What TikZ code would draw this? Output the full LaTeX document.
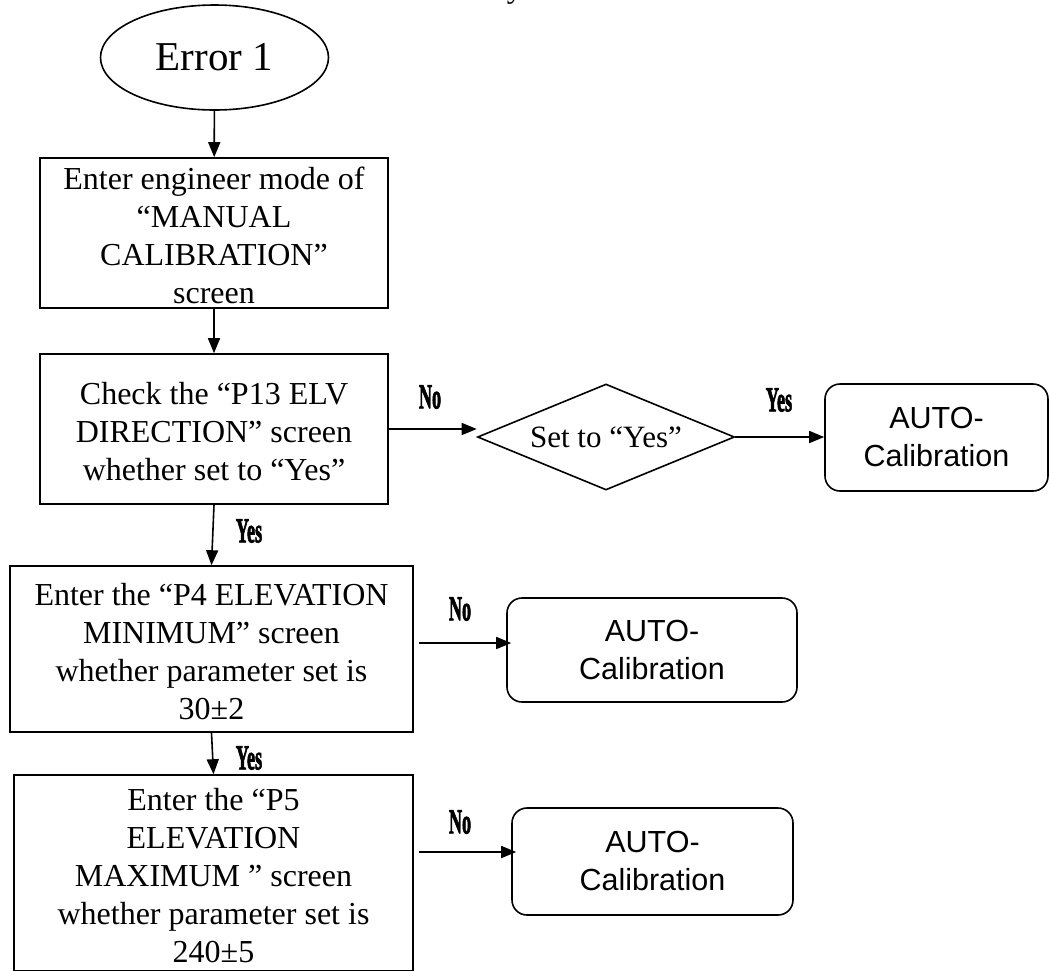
\documentclass[tikz,border=0pt]{standalone}
\usepackage{fontspec}
\usepackage{graphicx}
\setmainfont{Liberation Serif}
\newfontfamily\arialfont{Liberation Sans}
\newfontfamily\ynfont[FakeBold=2.5]{Liberation Serif Bold}
\usetikzlibrary{shapes.geometric,arrows.meta}
\newcommand\lns{\rule[-5pt]{0pt}{36pt}}
\newcommand\alns{\rule[-8pt]{0pt}{36pt}}
\newcommand\yn[1]{\scalebox{0.52}[1]{\ynfont #1}}
\begin{document}
\begin{tikzpicture}[x=1pt,y=-1pt,
  line width=1.6pt,
  arr/.style={-{Triangle[length=15pt,width=12pt]}},
  procbox/.style={draw,rectangle,inner sep=0pt,align=center,font=\fontsize{32}{38}\selectfont},
  autobox/.style={draw,rectangle,rounded corners=15pt,inner sep=0pt,align=center,font=\arialfont\fontsize{30.5}{38}\selectfont},
  termnode/.style={draw,ellipse,inner sep=0pt,font=\fontsize{41}{48}\selectfont},
  decnode/.style={draw,diamond,aspect=2.42,inner sep=0pt,font=\fontsize{31}{36}\selectfont},
  ynlabel/.style={inner sep=0pt,font=\fontsize{35}{35}\selectfont}]
\useasboundingbox (0,0) rectangle (1051,970);
% cut-off fragment at top edge
\node[anchor=base west,inner sep=0pt,font=\fontsize{32}{38}\selectfont] (ttl) at (506,-3) {y};

\node[termnode,minimum width=228pt,minimum height=105pt] (e1) at (214.5,57.5) {Error 1};

\node[procbox,minimum width=348pt,minimum height=150pt] (b1) at (214,233)
  {\lns Enter engineer mode of\\ \lns “MANUAL\\ \lns CALIBRATION”\\ \lns screen};

\node[procbox,minimum width=348pt,minimum height=150pt] (b2) at (214,429)
  {\lns Check the “P13 ELV\\ \lns DIRECTION” screen\\ \lns whether set to “Yes”};

\node[decnode,minimum width=257pt,minimum height=106pt] (d1) at (606,437) {Set to “Yes”};

\node[autobox,minimum width=223pt,minimum height=107pt] (a1) at (936.5,437.5)
  {\alns AUTO-\\ \alns Calibration};

\node[procbox,minimum width=403pt,minimum height=166pt] (b3) at (211.5,649)
  {\lns Enter the “P4 ELEVATION\\ \lns MINIMUM” screen\\ \lns whether parameter set is\\ \lns 30±2};

\node[autobox,minimum width=290pt,minimum height=104pt] (a2) at (652,650)
  {\alns AUTO-\\ \alns Calibration};

\node[procbox,minimum width=399pt,minimum height=196pt] (b4) at (213.5,873)
  {\lns Enter the “P5\\ \lns ELEVATION\\ \lns MAXIMUM ” screen\\ \lns whether parameter set is\\ \lns 240±5};

\node[autobox,minimum width=281pt,minimum height=107pt] (a3) at (652.5,861.5)
  {\alns AUTO-\\ \alns Calibration};

% connectors
\draw[arr] (e1) -- (b1);
\draw[arr] (b1) -- (b2);
\draw[arr] (b2.south) -- (b3.north);
\draw[arr] (b3.south) -- (b4.north);
\draw[arr] (b2.east) -- (b2.east -| d1.west);
\draw[arr] (d1.east) -- (d1.east -| a1.west);
\draw[arr] ([shift={(5,-6)}]b3.east) -- ([shift={(5,-6)}]b3.east -| a2.west);
\draw[arr] ([shift={(5,-21)}]b4.east) -- ([shift={(5,-21)}]b4.east -| a3.west);

% labels
\node[ynlabel] (l1) at (430,397) {\yn{No}};
\node[ynlabel] (l2) at (779,400) {\yn{Yes}};
\node[ynlabel] (l3) at (249,531) {\yn{Yes}};
\node[ynlabel] (l4) at (460,609) {\yn{No}};
\node[ynlabel] (l5) at (249,758) {\yn{Yes}};
\node[ynlabel] (l6) at (460,822) {\yn{No}};
\end{tikzpicture}
\end{document}
